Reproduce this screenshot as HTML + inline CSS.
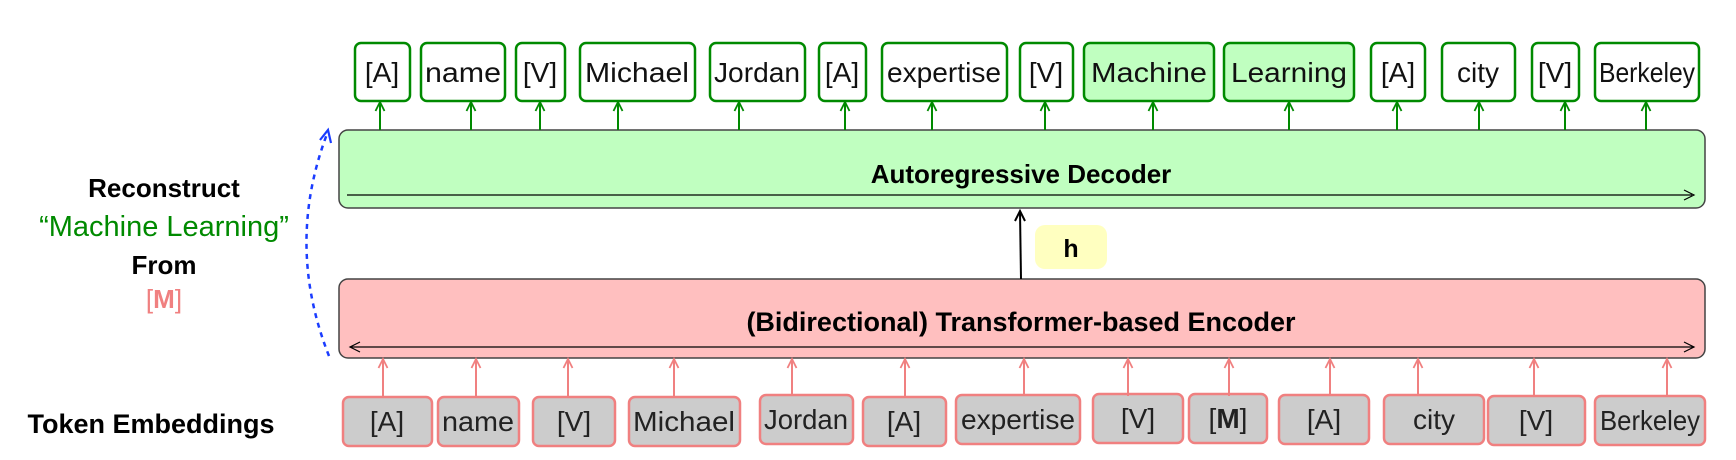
<!DOCTYPE html>
<html><head><meta charset="utf-8"><style>
html,body{margin:0;padding:0;background:#fff;}
svg{display:block;}
text{font-family:"Liberation Sans",sans-serif;}
</style></head><body>
<svg width="1736" height="460" viewBox="0 0 1736 460" xmlns="http://www.w3.org/2000/svg">
<defs>
<marker id="ag" markerWidth="12" markerHeight="12" refX="10" refY="6" orient="auto" markerUnits="userSpaceOnUse"><path d="M1,1.5 L10,6 L1,10.5" fill="none" stroke="#008a00" stroke-width="1.8"/></marker>
<marker id="ar" markerWidth="12" markerHeight="12" refX="10" refY="6" orient="auto" markerUnits="userSpaceOnUse"><path d="M1,1.5 L10,6 L1,10.5" fill="none" stroke="#f08080" stroke-width="1.8"/></marker>
</defs>
<!-- Decoder -->
<rect x="339" y="130" width="1366" height="78" rx="9" fill="#c0ffc0" stroke="#444" stroke-width="1.5"/>
<text x="1021" y="183" font-size="26" font-weight="bold" text-anchor="middle">Autoregressive Decoder</text>
<line x1="347" y1="195" x2="1692" y2="195" stroke="#000" stroke-width="1.2"/>
<path d="M1684,190 L1694,195 L1684,200" fill="none" stroke="#000" stroke-width="1.2"/>
<!-- Encoder -->
<rect x="339" y="279" width="1366" height="79" rx="9" fill="#ffbfbf" stroke="#444" stroke-width="1.5"/>
<text x="1021" y="331" font-size="27" font-weight="bold" text-anchor="middle">(Bidirectional) Transformer-based Encoder</text>
<line x1="350" y1="347" x2="1694" y2="347" stroke="#000" stroke-width="1.2"/>
<path d="M360,342 L350,347 L360,352 M1684,342 L1694,347 L1684,352" fill="none" stroke="#000" stroke-width="1.2"/>
<!-- h -->
<line x1="1021" y1="279" x2="1020" y2="212" stroke="#000" stroke-width="2"/>
<path d="M1015,221 L1020,211 L1025,221" fill="none" stroke="#000" stroke-width="2"/>
<rect x="1035" y="225" width="72" height="44" rx="10" fill="#ffffc0"/>
<text x="1071" y="257" font-size="25" font-weight="bold" text-anchor="middle">h</text>
<!-- blue dotted -->
<path d="M329,356 Q285,245 327,134" fill="none" stroke="#1a3cff" stroke-width="2.5" stroke-dasharray="5,5"/>
<path d="M320,140 L328,130 L331,143" fill="none" stroke="#1a3cff" stroke-width="2.2"/>
<!-- left text -->
<g text-anchor="middle">
<text x="164" y="197" font-size="26" font-weight="bold">Reconstruct</text>
<text x="164" y="236" font-size="29" fill="#008a00">“Machine Learning”</text>
<text x="164" y="274" font-size="26" font-weight="bold">From</text>
<text x="164" y="308" font-size="26" fill="#f08080">[<tspan font-weight="bold">M</tspan>]</text>
<text x="151" y="433" font-size="27" font-weight="bold">Token Embeddings</text>
</g>
<!-- top tokens -->
<g font-size="28" text-anchor="middle" stroke-width="2.5">
<g fill="#fff" stroke="#008a00">
<rect x="355" y="43" width="55" height="58" rx="6"/>
<rect x="421" y="43" width="84" height="58" rx="6"/>
<rect x="516" y="43" width="49" height="58" rx="6"/>
<rect x="580" y="43" width="115" height="58" rx="6"/>
<rect x="710" y="43" width="95" height="58" rx="6"/>
<rect x="819" y="43" width="47" height="58" rx="6"/>
<rect x="882" y="43" width="125" height="58" rx="6"/>
<rect x="1020" y="43" width="53" height="58" rx="6"/>
<rect x="1084" y="43" width="130" height="58" rx="6" fill="#c0ffc0"/>
<rect x="1224" y="43" width="130" height="58" rx="6" fill="#c0ffc0"/>
<rect x="1371" y="43" width="54" height="58" rx="6"/>
<rect x="1442" y="43" width="73" height="58" rx="6"/>
<rect x="1532" y="43" width="47" height="58" rx="6"/>
<rect x="1595" y="43" width="104" height="58" rx="6"/>
</g>
<g stroke="none" fill="#111">
<text x="382" y="82">[A]</text><text x="463" y="82" textLength="76" lengthAdjust="spacingAndGlyphs">name</text><text x="540" y="82">[V]</text><text x="637" y="82" textLength="104" lengthAdjust="spacingAndGlyphs">Michael</text><text x="757" y="82" textLength="86" lengthAdjust="spacingAndGlyphs">Jordan</text><text x="842" y="82">[A]</text><text x="944" y="82" textLength="114" lengthAdjust="spacingAndGlyphs">expertise</text><text x="1046" y="82">[V]</text><text x="1149" y="82" textLength="116" lengthAdjust="spacingAndGlyphs">Machine</text><text x="1289" y="82" textLength="116" lengthAdjust="spacingAndGlyphs">Learning</text><text x="1398" y="82">[A]</text><text x="1478" y="82">city</text><text x="1555" y="82">[V]</text><text x="1647" y="82" textLength="96" lengthAdjust="spacingAndGlyphs">Berkeley</text>
</g>
<g stroke="#008a00" stroke-width="2" marker-end="url(#ag)">
<line x1="380" y1="130" x2="380" y2="102"/><line x1="471" y1="130" x2="471" y2="102"/><line x1="540" y1="130" x2="540" y2="102"/><line x1="618" y1="130" x2="618" y2="102"/><line x1="739" y1="130" x2="739" y2="102"/><line x1="845" y1="130" x2="845" y2="102"/><line x1="932" y1="130" x2="932" y2="102"/><line x1="1045" y1="130" x2="1045" y2="102"/><line x1="1153" y1="130" x2="1153" y2="102"/><line x1="1289" y1="130" x2="1289" y2="102"/><line x1="1397" y1="130" x2="1397" y2="102"/><line x1="1479" y1="130" x2="1479" y2="102"/><line x1="1565" y1="130" x2="1565" y2="102"/><line x1="1646" y1="130" x2="1646" y2="102"/>
</g>
</g>
<!-- bottom tokens -->
<g font-size="28" text-anchor="middle" stroke-width="2.5">
<g fill="#cccccc" stroke="#f08080">
<rect x="343" y="397" width="89" height="49" rx="6"/>
<rect x="438" y="397" width="81" height="49" rx="6"/>
<rect x="533" y="397" width="82" height="49" rx="6"/>
<rect x="629" y="397" width="111" height="49" rx="6"/>
<rect x="760" y="395" width="93" height="49" rx="6"/>
<rect x="863" y="397" width="83" height="49" rx="6"/>
<rect x="956" y="395" width="124" height="49" rx="6"/>
<rect x="1093" y="394" width="90" height="49" rx="6"/>
<rect x="1189" y="394" width="78" height="49" rx="6"/>
<rect x="1279" y="395" width="90" height="49" rx="6"/>
<rect x="1384" y="395" width="100" height="49" rx="6"/>
<rect x="1488" y="396" width="97" height="49" rx="6"/>
<rect x="1595" y="396" width="110" height="49" rx="6"/>
</g>
<g stroke="none" fill="#222">
<text x="387" y="431">[A]</text><text x="478" y="431" textLength="72" lengthAdjust="spacingAndGlyphs">name</text><text x="574" y="431">[V]</text><text x="684" y="431" textLength="102" lengthAdjust="spacingAndGlyphs">Michael</text><text x="806" y="429" textLength="84" lengthAdjust="spacingAndGlyphs">Jordan</text><text x="904" y="431">[A]</text><text x="1018" y="429" textLength="114" lengthAdjust="spacingAndGlyphs">expertise</text><text x="1138" y="428">[V]</text><text x="1228" y="428">[<tspan font-weight="bold">M</tspan>]</text><text x="1324" y="429">[A]</text><text x="1434" y="429">city</text><text x="1536" y="430">[V]</text><text x="1650" y="430" textLength="100" lengthAdjust="spacingAndGlyphs">Berkeley</text>
</g>
<g stroke="#f08080" stroke-width="2" marker-end="url(#ar)">
<line x1="383" y1="396" x2="383" y2="359"/><line x1="476" y1="396" x2="476" y2="359"/><line x1="568" y1="396" x2="568" y2="359"/><line x1="674" y1="396" x2="674" y2="359"/><line x1="792" y1="396" x2="792" y2="359"/><line x1="905" y1="396" x2="905" y2="359"/><line x1="1024" y1="396" x2="1024" y2="359"/><line x1="1128" y1="396" x2="1128" y2="359"/><line x1="1229" y1="396" x2="1229" y2="359"/><line x1="1330" y1="396" x2="1330" y2="359"/><line x1="1418" y1="396" x2="1418" y2="359"/><line x1="1534" y1="396" x2="1534" y2="359"/><line x1="1667" y1="396" x2="1667" y2="359"/>
</g>
</g>
</svg>
</body></html>
